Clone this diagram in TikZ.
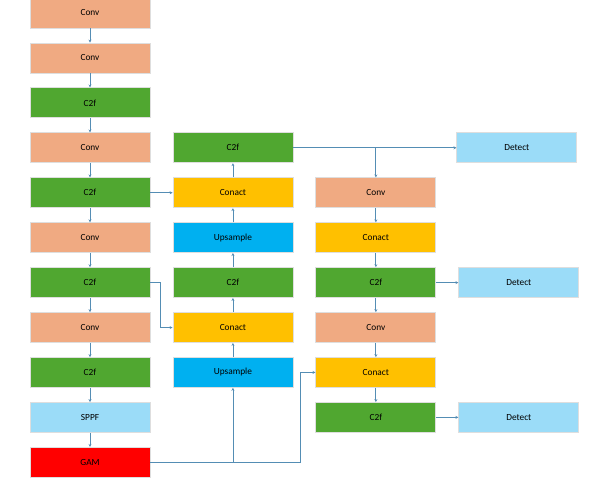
\documentclass[tikz,border=0pt]{standalone}
\usepackage{fontspec}
\setmainfont{Carlito}
\usetikzlibrary{arrows.meta, positioning}
\definecolor{convC}{RGB}{240,170,130}
\definecolor{csfC}{RGB}{80,167,48}
\definecolor{catC}{RGB}{255,192,0}
\definecolor{upC}{RGB}{0,176,240}
\definecolor{sppfC}{RGB}{155,220,248}
\definecolor{gamC}{RGB}{255,0,0}
\definecolor{lineC}{RGB}{84,141,180}
\definecolor{edgeC}{RGB}{222,222,222}

\begin{document}
\begin{tikzpicture}[
    x=0.75pt, y=-0.75pt,
    >={Stealth[length=2.2pt,width=2.2pt]},
    node distance = 10.6pt and 16.6pt,
    every node/.style={font=\fontsize{7}{8}\selectfont},
    blk/.style   ={draw=edgeC, line width=0.6pt, minimum width=90pt,
                   minimum height=22.5pt, inner sep=0pt},
    conv/.style  ={blk, fill=convC},
    csf/.style   ={blk, fill=csfC},
    cat/.style   ={blk, fill=catC},
    upsm/.style  ={blk, fill=upC},
    sppf/.style  ={blk, fill=sppfC},
    gam/.style   ={blk, fill=gamC},
    det/.style   ={blk, fill=sppfC},
    flow/.style  ={->, line width=0.6pt, lineC},
]
\useasboundingbox (0,0) rectangle (614,482);
% backbone
\node[conv] (conv1) at (90,13) {Conv};
\node[conv, below=of conv1] (conv2) {Conv};
\node[csf,  below=of conv2] (c2f1)  {C2f};
\node[conv, below=of c2f1]  (conv3) {Conv};
\node[csf,  below=of conv3] (c2f2)  {C2f};
\node[conv, below=of c2f2]  (conv4) {Conv};
\node[csf,  below=of conv4] (c2f3)  {C2f};
\node[conv, below=of c2f3]  (conv5) {Conv};
\node[csf,  below=of conv5] (c2f4)  {C2f};
\node[sppf, below=of c2f4]  (sppf)  {SPPF};
\node[gam,  below=of sppf]  (gam)   {GAM};
% neck, upward path
\node[csf,  right=of conv3] (c2f5) {C2f};
\node[cat,  below=of c2f5]  (cat1) {Conact};
\node[upsm, below=of cat1]  (up1)  {Upsample};
\node[csf,  below=of up1]   (c2f6) {C2f};
\node[cat,  below=of c2f6]  (cat2) {Conact};
\node[upsm, below=of cat2]  (up2)  {Upsample};
% neck, downward path
\node[conv, right=of cat1]  (conv6) {Conv};
\node[cat,  below=of conv6] (cat3)  {Conact};
\node[csf,  below=of cat3]  (c2f7)  {C2f};
\node[conv, below=of c2f7]  (conv7) {Conv};
\node[cat,  below=of conv7] (cat4)  {Conact};
\node[csf,  below=of cat4]  (c2f8)  {C2f};
% heads
\node[det, right=of c2f7] (det2) {Detect};
\node[det, right=of c2f8] (det3) {Detect};
\node[det] (det1) at ([xshift=-1.5pt]det2 |- c2f5) {Detect};
\coordinate (j3) at ([xshift=-11pt]cat4.west |- gam.east);

\draw[flow] (conv1) -- (conv2);
\draw[flow] (conv2) -- (c2f1);
\draw[flow] (c2f1)  -- (conv3);
\draw[flow] (conv3) -- (c2f2);
\draw[flow] (c2f2)  -- (conv4);
\draw[flow] (conv4) -- (c2f3);
\draw[flow] (c2f3)  -- (conv5);
\draw[flow] (conv5) -- (c2f4);
\draw[flow] (c2f4)  -- (sppf);
\draw[flow] (sppf)  -- (gam);
% skips into the neck
\draw[flow] (c2f2) -- (cat1);
\draw[flow] (c2f3.east) -- ++(7.5pt,0) |- (cat2.west);
\draw[flow] (gam.east) -| (up2.south);
\draw[flow] (gam.east) -- (j3) |- (cat4.west);
% upward
\draw[flow] (up2)  -- (cat2);
\draw[flow] (cat2) -- (c2f6);
\draw[flow] (c2f6) -- (up1);
\draw[flow] (up1)  -- (cat1);
\draw[flow] (cat1) -- (c2f5);
% downward
\draw[flow] (c2f5) -- (det1);
\draw[flow] (conv6 |- c2f5) -- (conv6);
\draw[flow] (conv6) -- (cat3);
\draw[flow] (cat3)  -- (c2f7);
\draw[flow] (c2f7)  -- (conv7);
\draw[flow] (conv7) -- (cat4);
\draw[flow] (cat4)  -- (c2f8);
\draw[flow] (c2f7)  -- (det2);
\draw[flow] (c2f8)  -- (det3);
\end{tikzpicture}
\end{document}
